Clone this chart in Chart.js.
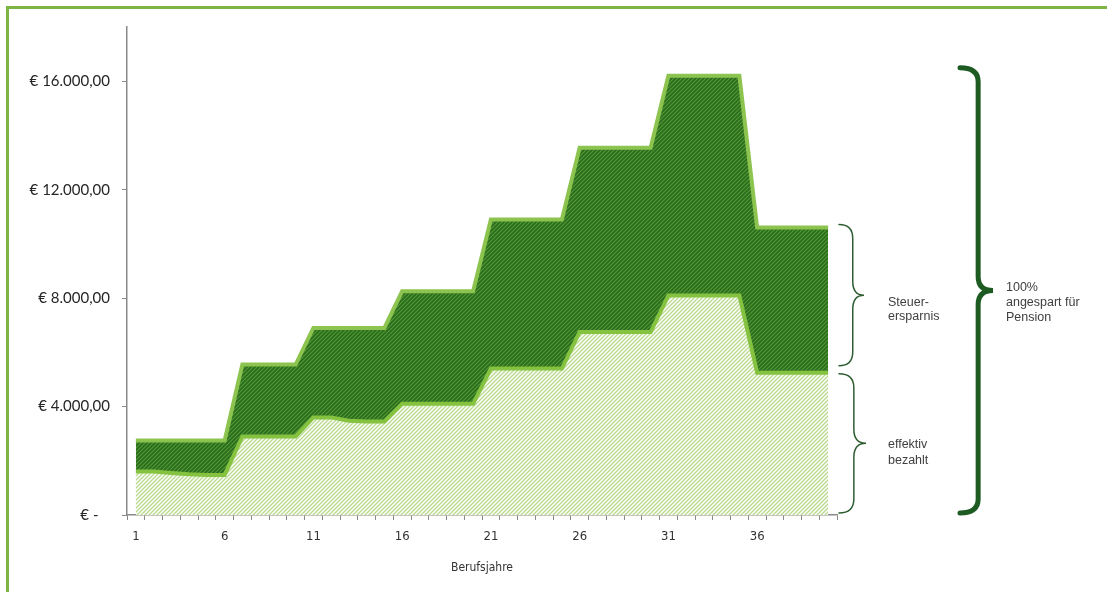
<!DOCTYPE html>
<html>
<head>
<meta charset="utf-8">
<script src="https://cdn.jsdelivr.net/npm/chart.js@4"></script>
<style>
  html, body { margin: 0; padding: 0; background: #fff; }
  #wrap { position: relative; width: 1107px; height: 592px; }
</style>
</head>
<body>
<div id="wrap"><canvas id="pensionChart"></canvas></div>
<script>
const years = ["1","2","3","4","5","6","7","8","9","10",
  "11","12","13","14","15","16","17","18","19","20",
  "21","22","23","24","25","26","27","28","29","30",
  "31","32","33","34","35","36","37","38","39","40"];

// 100% angespart (Gesamtbeitrag)
const gesamt = [2750,2750,2750,2750,2750,2750, 5550,5550,5550,5550,
  6900,6900,6900,6900,6900, 8250,8250,8250,8250,8250,
  10900,10900,10900,10900,10900, 13550,13550,13550,13550,13550,
  16200,16200,16200,16200,16200, 10600,10600,10600,10600,10600];

// effektiv bezahlt
const effektiv = [1600,1600,1550,1500,1480,1480, 2900,2900,2900,2900,
  3600,3600,3480,3450,3450, 4100,4100,4100,4100,4100,
  5400,5400,5400,5400,5400, 6750,6750,6750,6750,6750,
  8100,8100,8100,8100,8100, 5250,5250,5250,5250,5250];

const yTicks = [0, 4000, 8000, 12000, 16000];

function hatch(bg, fg, size, lw) {
  const c = document.createElement("canvas");
  c.width = size; c.height = size;
  const g = c.getContext("2d");
  g.fillStyle = bg;
  g.fillRect(0, 0, size, size);
  g.strokeStyle = fg;
  g.lineWidth = lw;
  g.beginPath();
  g.moveTo(0, size); g.lineTo(size, 0);
  g.moveTo(-1, 1); g.lineTo(1, -1);
  g.moveTo(size - 1, size + 1); g.lineTo(size + 1, size - 1);
  g.stroke();
  return g.createPattern(c, "repeat");
}

function euro(v) {
  if (v === 0) return "€ -   ";
  return "€ " + (v / 1000) + ".000,00";
}

function brace(ctx, x, y1, y2, w, lw, color) {
  const mid = (y1 + y2) / 2;
  const sx = x + w * 0.55;
  const r = Math.min(14, (y2 - y1) / 6);
  ctx.save();
  ctx.strokeStyle = color;
  ctx.lineWidth = lw;
  ctx.lineCap = "round";
  ctx.beginPath();
  ctx.moveTo(x, y1);
  ctx.quadraticCurveTo(sx, y1, sx, y1 + r);
  ctx.lineTo(sx, mid - r);
  ctx.quadraticCurveTo(sx, mid, x + w, mid);
  ctx.quadraticCurveTo(sx, mid, sx, mid + r);
  ctx.lineTo(sx, y2 - r);
  ctx.quadraticCurveTo(sx, y2, x, y2);
  ctx.stroke();
  ctx.restore();
}

const framePlugin = {
  id: "frame",
  beforeDraw(chart) {
    const ctx = chart.ctx;
    ctx.save();
    ctx.strokeStyle = "#7db544";
    ctx.lineWidth = 3;
    ctx.beginPath();
    ctx.moveTo(7.5, chart.height + 5);
    ctx.lineTo(7.5, 7.5);
    ctx.lineTo(chart.width + 5, 7.5);
    ctx.stroke();
    ctx.restore();
  }
};

const bracePlugin = {
  id: "braces",
  afterDraw(chart) {
    const ctx = chart.ctx;
    const y = chart.scales.y;
    const area = chart.chartArea;
    const last = years.length - 1;
    const pTop = y.getPixelForValue(gesamt[last]);
    const pEff = y.getPixelForValue(effektiv[last]);
    const pZero = y.getPixelForValue(0);
    const pMax = y.getPixelForValue(Math.max(...gesamt));
    const bx = area.right + 2;

    brace(ctx, bx, pTop - 3, pEff - 7, 25, 1.5, "#2f5e33");
    brace(ctx, bx, pEff + 1, pZero - 2, 27, 1.5, "#2f5e33");
    brace(ctx, area.right + 123, pMax - 8, pZero - 2, 33, 5, "#1d5b22");

    ctx.save();
    ctx.fillStyle = "#404040";
    ctx.font = "12.5px 'Liberation Sans', Arial, sans-serif";
    ctx.textBaseline = "middle";
    const tx = area.right + 51;
    const m1 = (pTop + pEff) / 2;
    ctx.fillText("Steuer-", tx, m1 + 2);
    ctx.fillText("ersparnis", tx, m1 + 16);
    const m2 = (pEff + pZero) / 2;
    ctx.fillText("effektiv", tx, m2 + 1);
    ctx.fillText("bezahlt", tx, m2 + 17);
    const bx2 = area.right + 169;
    const m3 = (pMax + pZero) / 2;
    ctx.fillText("100%", bx2, m3 - 8);
    ctx.fillText("angespart für", bx2, m3 + 7);
    ctx.fillText("Pension", bx2, m3 + 22);
    ctx.restore();
  }
};

const ctx = document.getElementById("pensionChart").getContext("2d");
const darkHatch = hatch("#2c6a1d", "#4f9a34", 4, 1.2);
const lightHatch = hatch("#ffffff", "#b9da8f", 4, 1.4);

const chart = new Chart(ctx, {
  type: "line",
  data: {
    labels: years,
    datasets: [
      {
        label: "effektiv bezahlt",
        data: effektiv,
        fill: "origin",
        backgroundColor: lightHatch,
        borderColor: "#84c240",
        borderWidth: 4,
        pointRadius: 0,
        tension: 0
      },
      {
        label: "Steuerersparnis",
        data: gesamt,
        fill: "origin",
        backgroundColor: darkHatch,
        borderColor: "#8cc44f",
        borderWidth: 4,
        pointRadius: 0,
        tension: 0
      }
    ]
  },
  options: {
    responsive: true,
    maintainAspectRatio: false,
    animation: false,
    layout: { padding: { top: 27, right: 270, left: 0, bottom: 0 } },
    plugins: {
      legend: { display: false },
      tooltip: { enabled: false }
    },
    scales: {
      x: {
        offset: true,
        afterFit: s => { s.height = 77; },
        grid: { drawOnChartArea: false, offset: true, tickLength: 5, color: "#8a8a8a", lineWidth: 1 },
        border: { color: "#8a8a8a", width: 1.5 },
        ticks: {
          autoSkip: false,
          maxRotation: 0,
          padding: 9,
          color: "#333333",
          font: { family: "'DejaVu Sans Condensed', sans-serif", size: 13 },
          callback: (v, i) => (i % 5 === 0 ? years[i] : "")
        },
        title: {
          display: true,
          text: "Berufsjahre",
          color: "#333333",
          font: { family: "'DejaVu Sans Condensed', sans-serif", size: 12 },
          padding: { top: 0, bottom: 17 }
        }
      },
      y: {
        min: 0,
        max: 18000,
        afterFit: s => { s.width = 127; },
        afterBuildTicks: s => { s.ticks = yTicks.map(v => ({ value: v })); },
        grid: { drawOnChartArea: false, tickLength: 5, color: "#8a8a8a" },
        border: { color: "#8a8a8a", width: 1.5 },
        ticks: {
          padding: 12,
          color: "#262626",
          font: { family: "Lato, 'Open Sans', sans-serif", size: 15 },
          callback: v => euro(v)
        }
      }
    }
  },
  plugins: [framePlugin, bracePlugin]
});
</script>
</body>
</html>
